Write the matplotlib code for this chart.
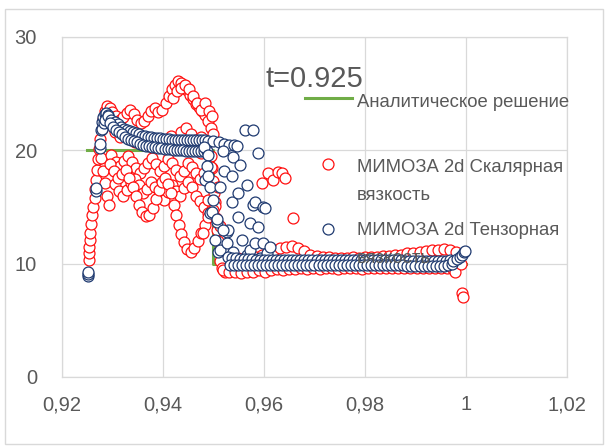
import numpy as np
import matplotlib
matplotlib.use("Agg")
import matplotlib.pyplot as plt
from matplotlib.lines import Line2D
from matplotlib.patches import Rectangle

# ---------------- data ----------------
analytic_x = [0.925, 0.950, 0.950, 1.000]
analytic_y = [20.0, 20.0, 10.0, 10.0]

# scalar viscosity (red)
red_left_x = [0.9253, 0.9254, 0.9254, 0.9255, 0.9256, 0.9257, 0.9259, 0.9262, 0.9265, 0.9266,
              0.9268, 0.9270, 0.9272, 0.9274, 0.9276, 0.9279, 0.9282, 0.9286, 0.9290, 0.9295,
              0.9278, 0.9282, 0.9286, 0.9290, 0.9294]
red_left_y = [10.3, 10.9, 11.5, 12.1, 12.7, 13.5, 14.3, 15.0, 15.8, 16.6,
              17.4, 18.3, 19.2, 20.1, 21.0, 21.9, 22.8, 23.5, 23.9, 23.7,
              19.3, 18.2, 17.1, 16.0, 15.2]
red_top_x = [0.9300, 0.9307, 0.9314, 0.9321, 0.9328, 0.9335, 0.9342, 0.9349, 0.9356, 0.9363,
             0.9370, 0.9377, 0.9384, 0.9391, 0.9398, 0.9405, 0.9411, 0.9417, 0.9423, 0.9429,
             0.9435, 0.9441, 0.9447, 0.9453, 0.9459, 0.9465, 0.9471, 0.9477, 0.9483, 0.9489,
             0.9495, 0.9500, 0.9420, 0.9428, 0.9436, 0.9444, 0.9452, 0.9460, 0.9468, 0.9476,
             0.9484, 0.9491, 0.9497]
red_top_y = [23.4, 23.0, 22.7, 22.9, 23.3, 23.6, 23.2, 22.7, 22.4, 22.6,
             23.0, 23.5, 23.7, 23.4, 23.6, 24.2, 24.8, 25.4, 25.8, 26.1,
             25.9, 25.6, 25.3, 24.9, 24.5, 24.1, 23.8, 23.5, 23.1, 22.6,
             22.0, 21.4, 24.6, 25.2, 25.5, 25.8, 25.4, 24.8, 24.2, 23.6,
             24.2, 23.5, 23.0]
red_midb_x = [0.9305, 0.9315, 0.9325, 0.9335, 0.9345, 0.9355, 0.9365, 0.9375, 0.9385, 0.9395,
              0.9405, 0.9415, 0.9425, 0.9435, 0.9445, 0.9455, 0.9465, 0.9475, 0.9485]
red_midb_y = [21.6, 21.2, 21.5, 21.0, 20.7, 21.1, 20.6, 20.4, 20.8, 20.3,
              20.9, 21.3, 20.8, 21.6, 22.0, 21.4, 20.9, 21.2, 20.5]
red_midc_x = [0.9298, 0.9306, 0.9314, 0.9322, 0.9330, 0.9338, 0.9346, 0.9354, 0.9362, 0.9370,
              0.9378, 0.9386, 0.9394, 0.9402, 0.9410, 0.9418, 0.9426, 0.9434, 0.9442, 0.9450,
              0.9458, 0.9466, 0.9474, 0.9482, 0.9490]
red_midc_y = [19.6, 19.0, 18.6, 19.1, 19.5, 19.0, 18.4, 18.0, 18.4, 18.9,
              19.3, 18.8, 18.2, 18.6, 19.2, 18.9, 18.3, 17.7, 18.2, 18.9,
              18.5, 18.0, 17.5, 18.0, 17.4]
red_midd_x = [0.9305, 0.9313, 0.9321, 0.9329, 0.9337, 0.9345, 0.9353, 0.9361, 0.9369, 0.9377,
              0.9385, 0.9393, 0.9401, 0.9409, 0.9417, 0.9425, 0.9433, 0.9441, 0.9449, 0.9457,
              0.9465, 0.9473, 0.9481, 0.9489]
red_midd_y = [17.0, 16.4, 16.0, 16.5, 17.1, 17.5, 16.9, 16.2, 16.6, 17.2,
              16.8, 16.0, 15.6, 16.3, 16.9, 16.4, 16.0, 16.7, 17.2, 16.8,
              16.0, 15.5, 15.0, 14.5]
red_low_x = [0.9295, 0.9302, 0.9310, 0.9318, 0.9326, 0.9333, 0.9340, 0.9347, 0.9353, 0.9359,
             0.9366, 0.9373, 0.9380, 0.9386, 0.9392, 0.9398, 0.9404, 0.9410, 0.9416, 0.9421,
             0.9426, 0.9431, 0.9436, 0.9442, 0.9448, 0.9455, 0.9462, 0.9469, 0.9476, 0.9483,
             0.9490, 0.9497, 0.9503]
red_low_y = [18.8, 18.2, 17.6, 17.9, 18.3, 17.6, 16.8, 16.0, 15.2, 14.6,
             14.2, 14.3, 14.9, 15.7, 16.5, 17.2, 17.6, 17.0, 16.2, 15.2,
             14.3, 13.4, 12.6, 11.9, 11.3, 11.0, 11.4, 12.0, 12.7, 13.4,
             14.1, 14.8, 15.4]
red_drop_x = [0.9495, 0.9497, 0.9499, 0.9501, 0.9503, 0.9505, 0.9507, 0.9509, 0.9511, 0.9513,
              0.9517, 0.9522, 0.9475, 0.9495, 0.9485, 0.9509, 0.9489, 0.9499, 0.9479, 0.9513]
red_drop_y = [19.5, 18.4, 17.3, 16.2, 15.1, 14.0, 13.0, 12.0, 11.0, 10.2,
              9.6, 9.3, 19.8, 18.5, 17.4, 16.8, 15.6, 14.7, 12.7, 13.3]
red_right_x = [0.9518, 0.9530, 0.9542, 0.9554, 0.9566, 0.9578, 0.9590, 0.9602, 0.9614, 0.9626,
               0.9638, 0.9650, 0.9662, 0.9674, 0.9686, 0.9698, 0.9710, 0.9722, 0.9734, 0.9746,
               0.9758, 0.9770, 0.9782, 0.9794, 0.9806, 0.9818, 0.9830, 0.9842, 0.9854, 0.9866,
               0.9878, 0.9890, 0.9902, 0.9914, 0.9926, 0.9938, 0.9950, 0.9962, 0.9974,
               0.9548, 0.9560, 0.9572, 0.9584, 0.9596, 0.9608, 0.9620, 0.9632, 0.9644, 0.9656,
               0.9668, 0.9680, 0.9692, 0.9704, 0.9716, 0.9728, 0.9740, 0.9752, 0.9764, 0.9776,
               0.9788, 0.9800, 0.9812, 0.9824, 0.9836, 0.9848, 0.9860, 0.9872, 0.9884, 0.9896,
               0.9908, 0.9920, 0.9932, 0.9944, 0.9956, 0.9968, 0.9980,
               0.9596, 0.9608, 0.9618, 0.9628, 0.9636, 0.9642, 0.9658,
               0.9978, 0.9993, 0.9994, 0.9985, 0.9990]
red_right_y = [9.4, 9.3, 9.3, 9.2, 9.3, 9.3, 9.4, 9.3, 9.4, 9.5,
               9.4, 9.5, 9.5, 9.6, 9.5, 9.6, 9.5, 9.6, 9.6, 9.5,
               9.6, 9.6, 9.6, 9.5, 9.6, 9.6, 9.6, 9.6, 9.6, 9.6,
               9.6, 9.6, 9.6, 9.6, 9.6, 9.6, 9.6, 9.6, 9.5,
               10.5, 10.4, 10.5, 10.6, 10.8, 11.0, 11.2, 11.4, 11.5, 11.6,
               11.4, 11.1, 10.8, 10.7, 10.6, 10.6, 10.5, 10.5, 10.5, 10.6,
               10.5, 10.6, 10.6, 10.6, 10.7, 10.7, 10.8, 10.8, 10.9, 10.9,
               11.0, 11.1, 11.2, 11.2, 11.3, 11.2, 11.0,
               17.1, 18.0, 17.4, 18.1, 18.0, 17.6, 14.0,
               9.3, 7.4, 7.1, 10.2, 10.0]

red_x = (red_left_x + red_top_x + red_midb_x + red_midc_x + red_midd_x +
         red_low_x + red_drop_x + red_right_x)
red_y = (red_left_y + red_top_y + red_midb_y + red_midc_y + red_midd_y +
         red_low_y + red_drop_y + red_right_y)

# tensor viscosity (blue)
blue_peak_x = [0.9251, 0.9251, 0.9252, 0.9267, 0.9268, 0.9275, 0.9276, 0.9278, 0.9280, 0.9282,
               0.9285, 0.9288, 0.9291, 0.9280, 0.9283, 0.9286]
blue_peak_y = [8.9, 9.1, 9.3, 16.4, 16.7, 20.2, 20.6, 21.8, 22.5, 22.9,
               23.2, 23.3, 23.1, 21.9, 22.4, 22.7]
blue_bandu_x = [0.9292, 0.9298, 0.9304, 0.9310, 0.9316, 0.9322, 0.9328, 0.9334, 0.9340, 0.9346,
                0.9352, 0.9358, 0.9364, 0.9370, 0.9376, 0.9382, 0.9388, 0.9394, 0.9400, 0.9406,
                0.9412, 0.9418, 0.9424, 0.9430, 0.9436, 0.9442, 0.9448, 0.9454, 0.9460, 0.9466,
                0.9472, 0.9478, 0.9484, 0.9490, 0.9500, 0.9510, 0.9520, 0.9530]
blue_bandu_y = [23.0, 22.7, 22.5, 22.3, 22.1, 21.9, 21.8, 21.7, 21.6, 21.5,
                21.4, 21.3, 21.3, 21.2, 21.2, 21.1, 21.1, 21.1, 21.0, 21.0,
                21.0, 20.9, 20.9, 20.9, 20.9, 20.9, 20.9, 20.9, 20.9, 20.9,
                20.9, 20.9, 20.9, 20.8, 20.8, 20.7, 20.6, 20.5]
blue_bandl_x = [0.9295, 0.9301, 0.9307, 0.9313, 0.9319, 0.9325, 0.9331, 0.9337, 0.9343, 0.9349,
                0.9355, 0.9361, 0.9367, 0.9373, 0.9379, 0.9385, 0.9391, 0.9397, 0.9403, 0.9409,
                0.9415, 0.9421, 0.9427, 0.9433, 0.9439, 0.9445, 0.9451, 0.9457, 0.9463, 0.9469,
                0.9475, 0.9481, 0.9487]
blue_bandl_y = [22.4, 22.1, 21.8, 21.6, 21.4, 21.2, 21.0, 20.9, 20.8, 20.7,
                20.6, 20.5, 20.4, 20.4, 20.3, 20.3, 20.2, 20.2, 20.1, 20.1,
                20.1, 20.0, 20.0, 20.0, 20.0, 19.9, 19.9, 19.9, 19.9, 19.9,
                19.9, 19.9, 19.9]
blue_trans_x = [0.9482, 0.9489, 0.9483, 0.9487, 0.9489, 0.9493, 0.9493, 0.9497, 0.9499, 0.9503,
                0.9507, 0.9509, 0.9513, 0.9513, 0.9518, 0.9520, 0.9527, 0.9527, 0.9529, 0.9537,
                0.9537, 0.9539, 0.9539, 0.9549, 0.9549, 0.9553, 0.9556, 0.9562, 0.9566, 0.9566,
                0.9572, 0.9572, 0.9578, 0.9578, 0.9582, 0.9582, 0.9588, 0.9588, 0.9592, 0.9598,
                0.9598, 0.9602, 0.9606, 0.9612, 0.9507, 0.9519, 0.9540, 0.9546]
blue_trans_y = [20.3, 19.6, 17.4, 18.6, 17.7, 16.8, 14.5, 14.6, 15.6, 12.1,
                13.7, 11.0, 16.8, 11.2, 19.9, 18.2, 12.8, 11.8, 13.0, 17.7,
                15.4, 19.4, 11.0, 16.2, 14.1, 18.7, 12.1, 21.8, 16.9, 10.8,
                13.6, 11.2, 21.8, 15.2, 15.4, 11.8, 19.8, 13.2, 10.5, 15.0,
                11.8, 14.9, 10.9, 11.5, 13.9, 13.0, 20.5, 20.4]
blue_flatu_x = [0.9528, 0.9536, 0.9544, 0.9552, 0.9560, 0.9568, 0.9576, 0.9584, 0.9592, 0.9600,
                0.9608, 0.9616, 0.9624, 0.9632, 0.9640, 0.9648, 0.9656, 0.9664, 0.9672, 0.9680,
                0.9688, 0.9696, 0.9704, 0.9712, 0.9720, 0.9728, 0.9736, 0.9744, 0.9752, 0.9760,
                0.9768, 0.9776, 0.9784, 0.9792, 0.9800, 0.9808, 0.9816, 0.9824, 0.9832, 0.9840,
                0.9848, 0.9856, 0.9864, 0.9872, 0.9880, 0.9888, 0.9896, 0.9904, 0.9912, 0.9920,
                0.9928, 0.9936, 0.9944, 0.9952, 0.9960, 0.9968]
blue_flatu_y = [10.6, 10.5, 10.5, 10.4, 10.4, 10.4, 10.4, 10.3, 10.3, 10.3,
                10.3, 10.3, 10.3, 10.3, 10.3, 10.3, 10.3, 10.3, 10.3, 10.3,
                10.3, 10.3, 10.3, 10.3, 10.3, 10.3, 10.3, 10.3, 10.3, 10.3,
                10.3, 10.3, 10.3, 10.3, 10.3, 10.3, 10.3, 10.3, 10.3, 10.3,
                10.3, 10.3, 10.3, 10.3, 10.2, 10.2, 10.2, 10.2, 10.2, 10.2,
                10.2, 10.2, 10.2, 10.2, 10.2, 10.3]
blue_flatl_x = [0.9532, 0.9540, 0.9548, 0.9556, 0.9564, 0.9572, 0.9580, 0.9588, 0.9596, 0.9604,
                0.9612, 0.9620, 0.9628, 0.9636, 0.9644, 0.9652, 0.9660, 0.9668, 0.9676, 0.9684,
                0.9692, 0.9700, 0.9708, 0.9716, 0.9724, 0.9732, 0.9740, 0.9748, 0.9756, 0.9764,
                0.9772, 0.9780, 0.9788, 0.9796, 0.9804, 0.9812, 0.9820, 0.9828, 0.9836, 0.9844,
                0.9852, 0.9860, 0.9868, 0.9876, 0.9884, 0.9892, 0.9900, 0.9908, 0.9916, 0.9924,
                0.9932, 0.9940, 0.9948, 0.9956, 0.9964, 0.9972]
blue_flatl_y = [9.9, 9.9, 9.9, 9.9, 9.9, 9.9, 9.9, 9.9, 9.9, 9.9,
                9.9, 9.9, 9.9, 9.9, 9.9, 9.9, 9.9, 9.9, 9.9, 9.9,
                9.9, 9.9, 9.9, 9.9, 9.9, 9.9, 9.9, 9.9, 9.9, 9.9,
                9.9, 9.9, 9.9, 9.9, 9.9, 9.9, 9.9, 9.9, 9.9, 9.9,
                9.9, 9.9, 9.9, 9.9, 9.8, 9.8, 9.8, 9.8, 9.8, 9.8,
                9.8, 9.8, 9.8, 9.8, 9.9, 10.0]
blue_end_x = [0.9975, 0.9982, 0.9988, 0.9993, 0.9997, 0.9999]
blue_end_y = [10.2, 10.4, 10.6, 10.8, 11.0, 11.1]

blue_x = blue_peak_x + blue_bandu_x + blue_bandl_x + blue_trans_x + blue_flatu_x + blue_flatl_x + blue_end_x
blue_y = blue_peak_y + blue_bandu_y + blue_bandl_y + blue_trans_y + blue_flatu_y + blue_flatl_y + blue_end_y

x_ticks = [0.92, 0.94, 0.96, 0.98, 1.00, 1.02]
x_tick_labels = ["0,92", "0,94", "0,96", "0,98", "1", "1,02"]
y_ticks = [0, 10, 20, 30]
y_tick_labels = ["0", "10", "20", "30"]

title_text = "t=0.925"
legend_lines = [["Аналитическое решение"],
                ["МИМОЗА 2d Скалярная", "вязкость"],
                ["МИМОЗА 2d Тензорная", "вязкость"]]

# ---------------- style ----------------
plt.rcParams['font.family'] = ['Liberation Sans', 'DejaVu Sans']
W, H = 607, 446
DPI = 100
TXT = '#595959'
GRID = '#D9D9D9'
RED = '#FF1010'
BLUE = '#1F3A70'
GREEN = '#70AD47'

fig = plt.figure(figsize=(W / DPI, H / DPI), dpi=DPI)
fig.patch.set_facecolor('white')

def fx(px):
    return px / W

def fy(py):
    return 1 - py / H

ax = fig.add_axes([fx(62), fy(377), fx(567) - fx(62), fy(37) - fy(377)])
ax.set_xlim(0.92, 1.02)
ax.set_ylim(0, 30)
ax.set_xticks(x_ticks)
ax.set_xticklabels(x_tick_labels)
ax.set_yticks(y_ticks)
ax.set_yticklabels(y_tick_labels)
ax.grid(True, color=GRID, linewidth=0.9, zorder=0)
ax.set_axisbelow(True)
for s in ax.spines.values():
    s.set_color(GRID)
    s.set_linewidth(0.9)
ax.tick_params(axis='both', length=0, labelsize=14.5, labelcolor=TXT)
ax.tick_params(axis='y', pad=18)
ax.tick_params(axis='x', pad=13)

ms = 62
lw = 0.9
ax.plot(analytic_x, analytic_y, color=GREEN, linewidth=2.2, zorder=2)
ax.scatter(red_x, red_y, s=ms, facecolors='white', edgecolors=RED, linewidths=lw, zorder=3)
ax.scatter(blue_x, blue_y, s=ms, facecolors='white', edgecolors=BLUE, linewidths=lw, zorder=4)

# title
ax.text(fx(266), fy(87), title_text, transform=fig.transFigure, fontsize=21,
        color=TXT, ha='left', va='baseline', zorder=1)

# legend (drawn manually to match the layout)
ax.add_line(Line2D([fx(305), fx(352)], [fy(98), fy(98)], transform=fig.transFigure,
                   color=GREEN, linewidth=2.2, clip_on=False, zorder=1))
ax.add_line(Line2D([fx(328)], [fy(164)], transform=fig.transFigure, marker='o', markersize=7.9,
                   markerfacecolor='white', markeredgecolor=RED, markeredgewidth=lw,
                   linestyle='none', clip_on=False, zorder=1))
ax.add_line(Line2D([fx(328)], [fy(229)], transform=fig.transFigure, marker='o', markersize=7.9,
                   markerfacecolor='white', markeredgecolor=BLUE, markeredgewidth=lw,
                   linestyle='none', clip_on=False, zorder=1))
baselines = [[107], [172, 200], [235, 263]]
for lines, bls in zip(legend_lines, baselines):
    for line, bl in zip(lines, bls):
        ax.text(fx(357), fy(bl), line, transform=fig.transFigure, fontsize=13.3,
                color=TXT, ha='left', va='baseline', zorder=5)

# chart border
fig.patches.append(Rectangle((fx(5), fy(444)), fx(603) - fx(5), fy(9) - fy(444),
                             transform=fig.transFigure, fill=False, edgecolor=GRID, linewidth=1.0))

fig.savefig('out.png', dpi=DPI, facecolor='white')
